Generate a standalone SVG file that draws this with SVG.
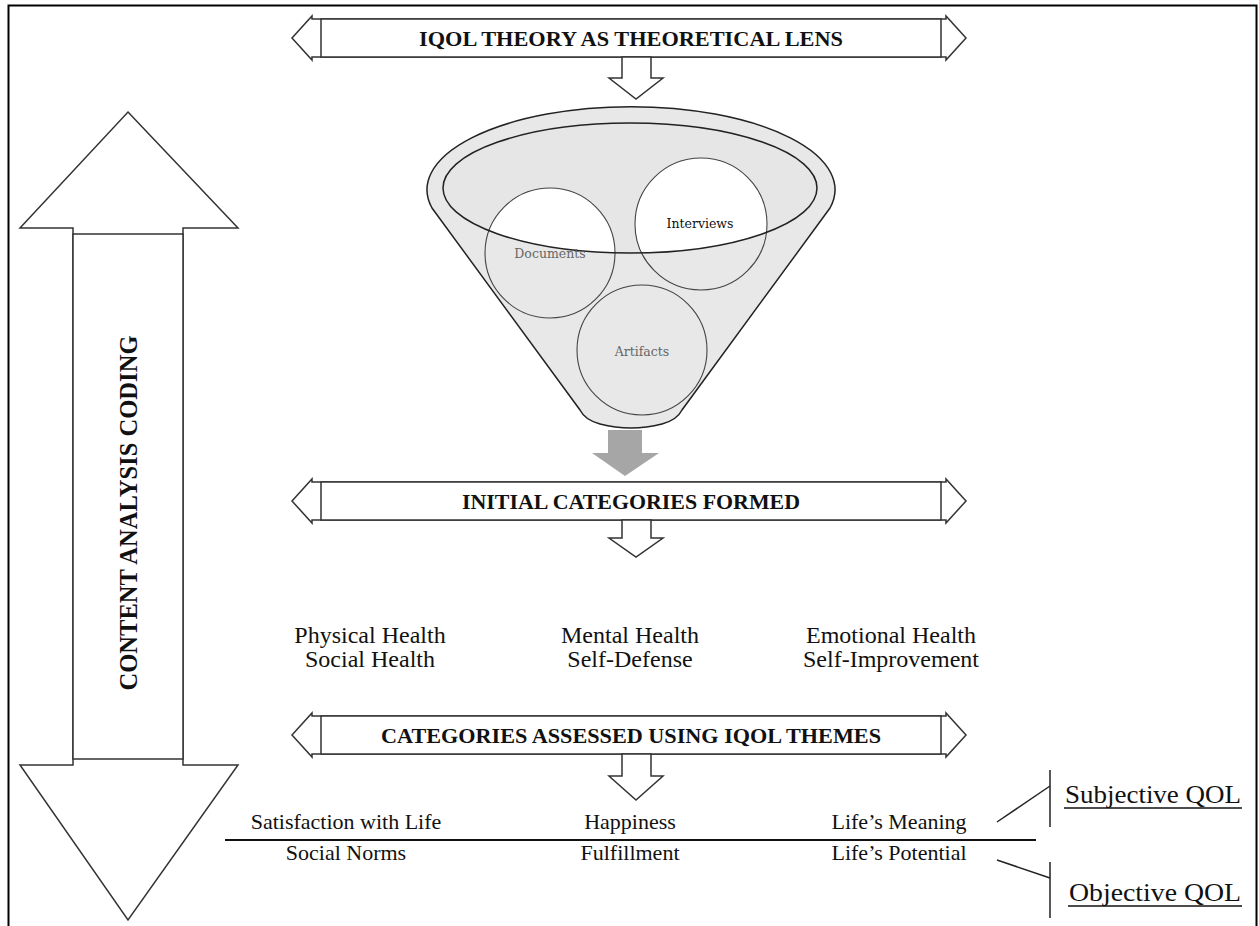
<svg xmlns="http://www.w3.org/2000/svg" width="1259" height="926" viewBox="0 0 1259 926">
<style>
.ln{fill:none;stroke:#222;stroke-width:1.5}
.wf{fill:#fff;stroke:#333;stroke-width:1.5;stroke-linejoin:miter}
.b{font-family:"Liberation Serif","Times New Roman",serif;font-weight:bold;font-size:22px;text-anchor:middle;fill:#111}
.t{font-family:"Liberation Serif","Times New Roman",serif;font-size:24px;text-anchor:middle;fill:#111}
.r{font-family:"Liberation Serif","Times New Roman",serif;font-size:22px;text-anchor:middle;fill:#111}
.q{font-family:"Liberation Serif","Times New Roman",serif;font-size:25px;text-anchor:middle;fill:#111}
.s{font-family:"DejaVu Serif","Liberation Serif",serif;font-size:12.5px;text-anchor:middle}
.c{fill:#e8e8e8;stroke:none}
.cs{fill:none;stroke:#444;stroke-width:1.1}
</style>
<defs>
<clipPath id="inner"><ellipse cx="630" cy="188" rx="187" ry="65"/></clipPath>
</defs>
<rect width="1259" height="926" fill="#fff"/>
<path d="M8.5 926 V5.5 H1256.5 V926" fill="none" stroke="#000" stroke-width="2"/>

<g id="content-analysis">
<polygon class="wf" points="128,112 238,228 183,228 183,765 238,765 128,920 20,765 73,765 73,228 20,228"/>
<rect class="wf" x="73" y="234" width="110" height="525"/>
<text class="b" style="font-size:25px" transform="translate(137,513) rotate(-90)" textLength="355" lengthAdjust="spacingAndGlyphs">CONTENT ANALYSIS CODING</text>
</g>

<g id="banner-lens">
<polygon class="wf" points="292,38 312,16 312,19 946,19 946,16 966,38 946,60 946,57 312,57 312,60"/>
<rect class="wf" x="321" y="19" width="620" height="38"/>
<text class="b" x="631" y="45.5" textLength="424" lengthAdjust="spacingAndGlyphs">IQOL THEORY AS THEORETICAL LENS</text>
</g>

<g id="funnel">
<path d="M432 208 A204 83 0 1 1 830 208 L682 410 Q677 420 662 424 Q631 432 600 424 Q585 420 580 410 Z" fill="#e8e8e8" stroke="#222" stroke-width="1.5"/>
<ellipse cx="630" cy="188" rx="187" ry="65" fill="#e6e6e6" stroke="none"/>
<circle class="c" cx="550" cy="253" r="65"/>
<circle class="c" cx="701" cy="224" r="66"/>
<circle class="c" cx="642" cy="350" r="65"/>
<g clip-path="url(#inner)">
<circle cx="550" cy="253" r="65" fill="#fff"/>
<circle cx="701" cy="224" r="66" fill="#fff"/>
</g>
<circle class="cs" cx="550" cy="253" r="65"/>
<circle class="cs" cx="701" cy="224" r="66"/>
<circle class="cs" cx="642" cy="350" r="65"/>
<ellipse cx="630" cy="188" rx="187" ry="65" fill="none" stroke="#222" stroke-width="1.5"/>
<text class="s" x="550" y="258" fill="#666">Documents</text>
<text class="s" x="700" y="228" fill="#111">Interviews</text>
<text class="s" x="642" y="356" fill="#666">Artifacts</text>
</g>

<g id="banner-initial">
<polygon class="wf" points="292,501 312,479 312,482 946,482 946,479 966,501 946,523 946,520 312,520 312,523"/>
<rect class="wf" x="321" y="482" width="620" height="38"/>
<text class="b" x="631" y="508.5" textLength="338" lengthAdjust="spacingAndGlyphs">INITIAL CATEGORIES FORMED</text>
</g>

<g id="categories">
<text class="t" x="370" y="643">Physical Health</text>
<text class="t" x="370" y="667">Social Health</text>
<text class="t" x="630" y="643">Mental Health</text>
<text class="t" x="630" y="667">Self-Defense</text>
<text class="t" x="891" y="643">Emotional Health</text>
<text class="t" x="891" y="667">Self-Improvement</text>
</g>

<g id="banner-assessed">
<polygon class="wf" points="292,735 312,713 312,716 946,716 946,713 966,735 946,757 946,754 312,754 312,757"/>
<rect class="wf" x="321" y="716" width="620" height="38"/>
<text class="b" x="631" y="742.5" textLength="500" lengthAdjust="spacingAndGlyphs">CATEGORIES ASSESSED USING IQOL THEMES</text>
</g>

<g id="themes">
<text class="r" x="346" y="829">Satisfaction with Life</text>
<text class="r" x="630" y="829">Happiness</text>
<text class="r" x="899" y="829">Life’s Meaning</text>
<text class="r" x="346" y="860">Social Norms</text>
<text class="r" x="630" y="860">Fulfillment</text>
<text class="r" x="899" y="860">Life’s Potential</text>
</g>

<g id="qol-labels">
<text class="q" x="1153" y="803" textLength="176" lengthAdjust="spacingAndGlyphs">Subjective QOL</text>
<line x1="1064" y1="808" x2="1242" y2="808" stroke="#111" stroke-width="1.3"/>
<text class="q" x="1155" y="901" textLength="172" lengthAdjust="spacingAndGlyphs">Objective QOL</text>
<line x1="1068" y1="906" x2="1242" y2="906" stroke="#111" stroke-width="1.3"/>
</g>

<g id="connectors">
<polygon class="wf" points="622,57 622,78 609,78 636,99 663,78 651,78 651,57"/>
<polygon points="608,430 608,453 592,453 625,476 659,453 642,453 642,430" fill="#a6a6a6"/>
<polygon class="wf" points="622,520 622,538 609,538 636,557 663,538 651,538 651,520"/>
<polygon class="wf" points="622,754 622,776 609,776 636,800 663,776 651,776 651,754"/>
<line x1="225" y1="840" x2="1036" y2="840" stroke="#111" stroke-width="1.8"/>
<line class="ln" x1="1050" y1="770" x2="1050" y2="827"/>
<line class="ln" x1="997" y1="822" x2="1050" y2="786"/>
<line class="ln" x1="1050" y1="862" x2="1050" y2="918"/>
<line class="ln" x1="997" y1="860" x2="1050" y2="878"/>
</g>
</svg>
